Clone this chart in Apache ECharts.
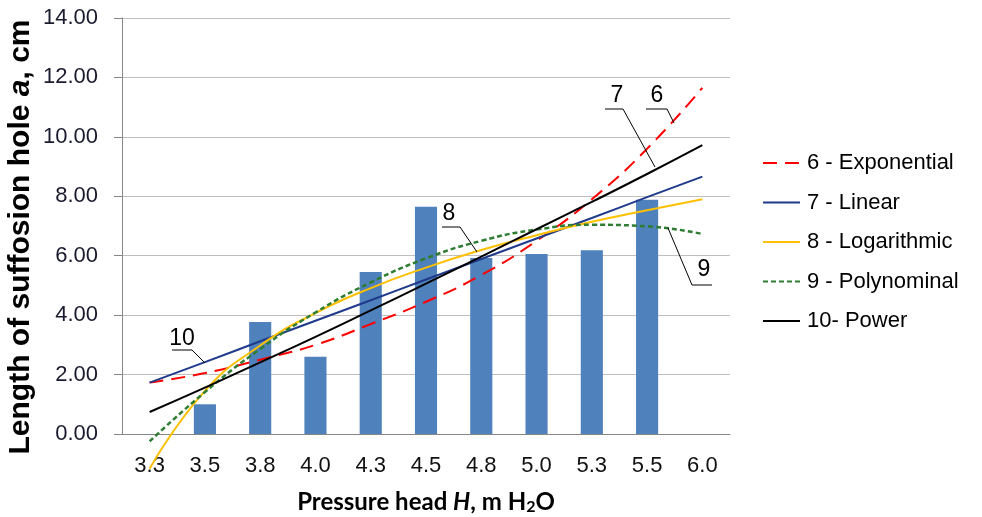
<!DOCTYPE html>
<html><head><meta charset="utf-8">
<script src="https://cdn.jsdelivr.net/npm/echarts@6/dist/echarts.min.js"></script>
<style>html,body{margin:0;padding:0;background:#fff}#c{width:982px;height:517px}</style>
</head><body><div id="c"></div>
<script>
const categories = ['3.3','3.5','3.8','4.0','4.3','4.5','4.8','5.0','5.3','5.5','6.0'];
const barValues = [null, 1.0, 3.77, 2.6, 5.45, 7.65, 5.92, 6.06, 6.18, 7.88, null];
const exponential = [1.73, 2.05, 2.5, 3.0, 3.7, 4.45, 5.35, 6.5, 7.9, 9.6, 11.65];
const linear = [1.73, 2.42, 3.12, 3.81, 4.5, 5.2, 5.89, 6.58, 7.27, 7.97, 8.66];
const logarithmic = [-1.17, 1.45, 2.98, 4.07, 4.91, 5.6, 6.19, 6.69, 7.14, 7.53, 7.9];
const polynomial = [-0.25, 1.41, 2.86, 4.09, 5.1, 5.91, 6.5, 6.88, 7.04, 6.99, 6.73];
const power = [0.74, 1.56, 2.41, 3.27, 4.16, 5.06, 5.97, 6.89, 7.81, 8.75, 9.72];
const seriesNames = ['6 - Exponential', '7 - Linear', '8 - Logarithmic', '9 - Polynominal', '10- Power'];

const FONT = 'Arial, "Liberation Sans", sans-serif';
const TFONT = 'Lato, "Open Sans", sans-serif';
const chart = echarts.init(document.getElementById('c'));

function callout(label, tx, ty, pts) {
  return [
    { type: 'text', x: tx, y: ty, z: 100,
      style: { text: label, font: '23px ' + FONT, fill: '#000', align: 'center', verticalAlign: 'middle' } },
    { type: 'polyline', z: 100, shape: { points: pts },
      style: { stroke: '#000', lineWidth: 1, fill: null } }
  ];
}

const option = {
  animation: false,
  backgroundColor: '#fff',
  grid: { left: 122, right: 252, top: 18, bottom: 83, containLabel: false, outerBoundsMode: 'none' },
  legend: {
    orient: 'vertical', left: 757, top: 147, itemWidth: 37, itemHeight: 20, itemGap: 17.5,
    textStyle: { fontFamily: FONT, fontSize: 22, color: '#000', padding: [0, 0, 0, 2] },
    itemStyle: { color: 'rgba(0,0,0,0)', borderColor: 'rgba(0,0,0,0)', borderWidth: 0 },
    data: seriesNames
  },
  xAxis: {
    type: 'category', data: categories, boundaryGap: true,
    axisLine: { lineStyle: { color: '#868686', width: 1 } },
    axisTick: { show: false },
    axisLabel: { fontFamily: FONT, fontSize: 22, color: '#111', margin: 21 },
    name: '{b|Pressure head }{i|H}{b|, m H}{s|2}{b|O}',
    nameLocation: 'middle', nameGap: 55,
    nameTextStyle: {
      rich: {
        b: { fontFamily: TFONT, fontSize: 24, fontWeight: 'bold', color: '#000' },
        i: { fontFamily: TFONT, fontSize: 24, fontWeight: 'bold', fontStyle: 'italic', color: '#000' },
        s: { fontFamily: TFONT, fontSize: 16, fontWeight: 'bold', color: '#000', padding: [10, 0, 0, 0] }
      }
    }
  },
  yAxis: {
    type: 'value', min: 0, max: 14, interval: 2,
    axisLine: { show: true, lineStyle: { color: '#868686', width: 1 } },
    axisTick: { show: true, length: 8, lineStyle: { color: '#868686' } },
    splitLine: { lineStyle: { color: '#bfbfbf', width: 1 } },
    axisLabel: { fontFamily: FONT, fontSize: 22, color: '#1a1a2e', margin: 24,
      formatter: v => v.toFixed(2) }
  },
  series: [
    { type: 'bar', name: 'data', data: barValues, barWidth: '40%', z: 1,
      itemStyle: { color: '#4f81bd' } },
    { type: 'line', name: seriesNames[0], data: exponential, smooth: true, symbol: 'none', clip: false, z: 3,
      lineStyle: { color: '#ff0000', width: 2, type: [14, 8] }, itemStyle: { color: '#ff0000' } },
    { type: 'line', name: seriesNames[1], data: linear, smooth: true, symbol: 'none', clip: false, z: 3,
      lineStyle: { color: '#1f3a8a', width: 2 }, itemStyle: { color: '#1f3a8a' } },
    { type: 'line', name: seriesNames[2], data: logarithmic, smooth: true, symbol: 'none', clip: false, z: 3,
      lineStyle: { color: '#ffc000', width: 2 }, itemStyle: { color: '#ffc000' } },
    { type: 'line', name: seriesNames[3], data: polynomial, smooth: true, symbol: 'none', clip: false, z: 3,
      lineStyle: { color: '#2e7d32', width: 2.5, type: [5, 3] }, itemStyle: { color: '#2e7d32' } },
    { type: 'line', name: seriesNames[4], data: power, smooth: true, symbol: 'none', clip: false, z: 3,
      lineStyle: { color: '#000000', width: 2 }, itemStyle: { color: '#000000' } }
  ],
  graphic: [
    { type: 'text', x: 21, y: 237, rotation: Math.PI / 2, z: 100,
      style: { text: '{b|Length of suffosion hole }{i|a}{b|, cm}', align: 'center', verticalAlign: 'middle',
        rich: {
          b: { fontFamily: FONT, fontSize: 30, fontWeight: 'bold', fill: '#000' },
          i: { fontFamily: FONT, fontSize: 30, fontWeight: 'bold', fontStyle: 'italic', fill: '#000' }
        } } },
    ...callout('10', 182, 339, [[172, 350], [192, 350], [205, 363]]),
    ...callout('8', 449, 214, [[442, 227], [460, 227], [477, 252]]),
    ...callout('7', 617, 96, [[605, 109], [623, 109], [655, 167]]),
    ...callout('6', 657, 96, [[646, 109], [667, 109], [674, 123]]),
    ...callout('9', 704, 270, [[712, 285], [692, 285], [668, 228]])
  ]
};
chart.setOption(option);
</script>
</body></html>
